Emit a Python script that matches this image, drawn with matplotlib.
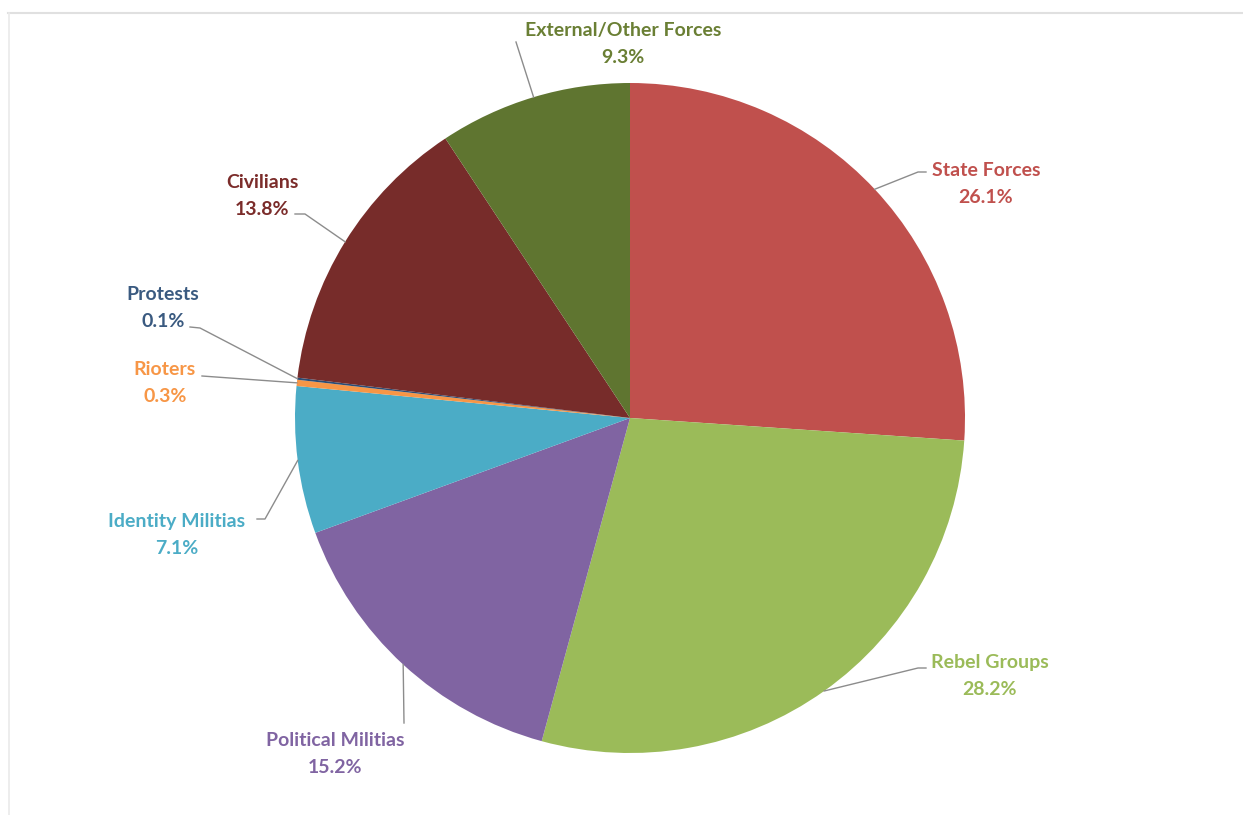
import numpy as np
import matplotlib.pyplot as plt
from matplotlib.lines import Line2D

# Data
categories = ["State Forces", "Rebel Groups", "Political Militias", "Identity Militias",
              "Rioters", "Protests", "Civilians", "External/Other Forces"]
shares = [26.1, 28.2, 15.2, 7.1, 0.3, 0.1, 13.8, 9.3]
slice_colors = ["#C0504D", "#9BBB59", "#8064A2", "#4BACC6",
                "#F79646", "#2C4D75", "#772C2A", "#5F7530"]
text_colors = ["#C0504D", "#9BBB59", "#8064A2", "#4BACC6",
               "#F79646", "#3A5A80", "#7B2C2A", "#6A7F34"]

# label layout (pixel positions, y measured from top): text centre, elbow, line end
label_pos = {
    "State Forces": ((986, 184), [(918, 172), (926, 172)]),
    "Rebel Groups": ((990, 676), [(918, 668), (926, 668)]),
    "Political Militias": ((335, 754), [(404, 723)]),
    "Identity Militias": ((177, 535), [(265, 519), (257, 519)]),
    "Rioters": ((165, 383), [(202, 376)]),
    "Protests": ((163, 308), [(200, 328), (190, 327)]),
    "Civilians": ((262, 196), [(305, 214), (295, 214)]),
    "External/Other Forces": ((623, 44), [(516, 42)]),
}

W, H = 1243, 815
fig = plt.figure(figsize=(W / 100, H / 100), dpi=100)
ax = fig.add_axes([0, 0, 1, 1])

cx, cy, r = 630, H - 418, 335
wedges, _ = ax.pie(shares, colors=slice_colors, startangle=90, counterclock=False,
                   center=(cx, cy), radius=r, frame=True,
                   wedgeprops=dict(linewidth=0))
ax.set_xlim(0, W)
ax.set_ylim(0, H)
ax.set_aspect("equal")
ax.axis("off")

plt.rcParams["font.family"] = ["Lato", "DejaVu Sans"]

for w, name, val, tc in zip(wedges, categories, shares, text_colors):
    mid = np.deg2rad((w.theta1 + w.theta2) / 2)
    x0, y0 = cx + r * np.cos(mid), cy + r * np.sin(mid)
    (tx, ty), pts = label_pos[name]
    xs = [x0] + [p[0] for p in pts]
    ys = [y0] + [H - p[1] for p in pts]
    ax.add_line(Line2D(xs, ys, color="#8C8C8C", lw=1.0))
    ax.text(tx, H - ty, f"{name}\n{val}%", ha="center", va="center",
            color=tc, fontsize=14, fontweight="bold", linespacing=1.75)

# light frame lines at top and left
fig.add_artist(Line2D([8 / W, 1], [1 - 12.5 / H, 1 - 12.5 / H], color="#E0E0E0", lw=1.5))
fig.add_artist(Line2D([8.5 / W, 8.5 / W], [0, 1 - 12.5 / H], color="#EAEAEA", lw=1.2))

fig.savefig("out.png", dpi=100)
